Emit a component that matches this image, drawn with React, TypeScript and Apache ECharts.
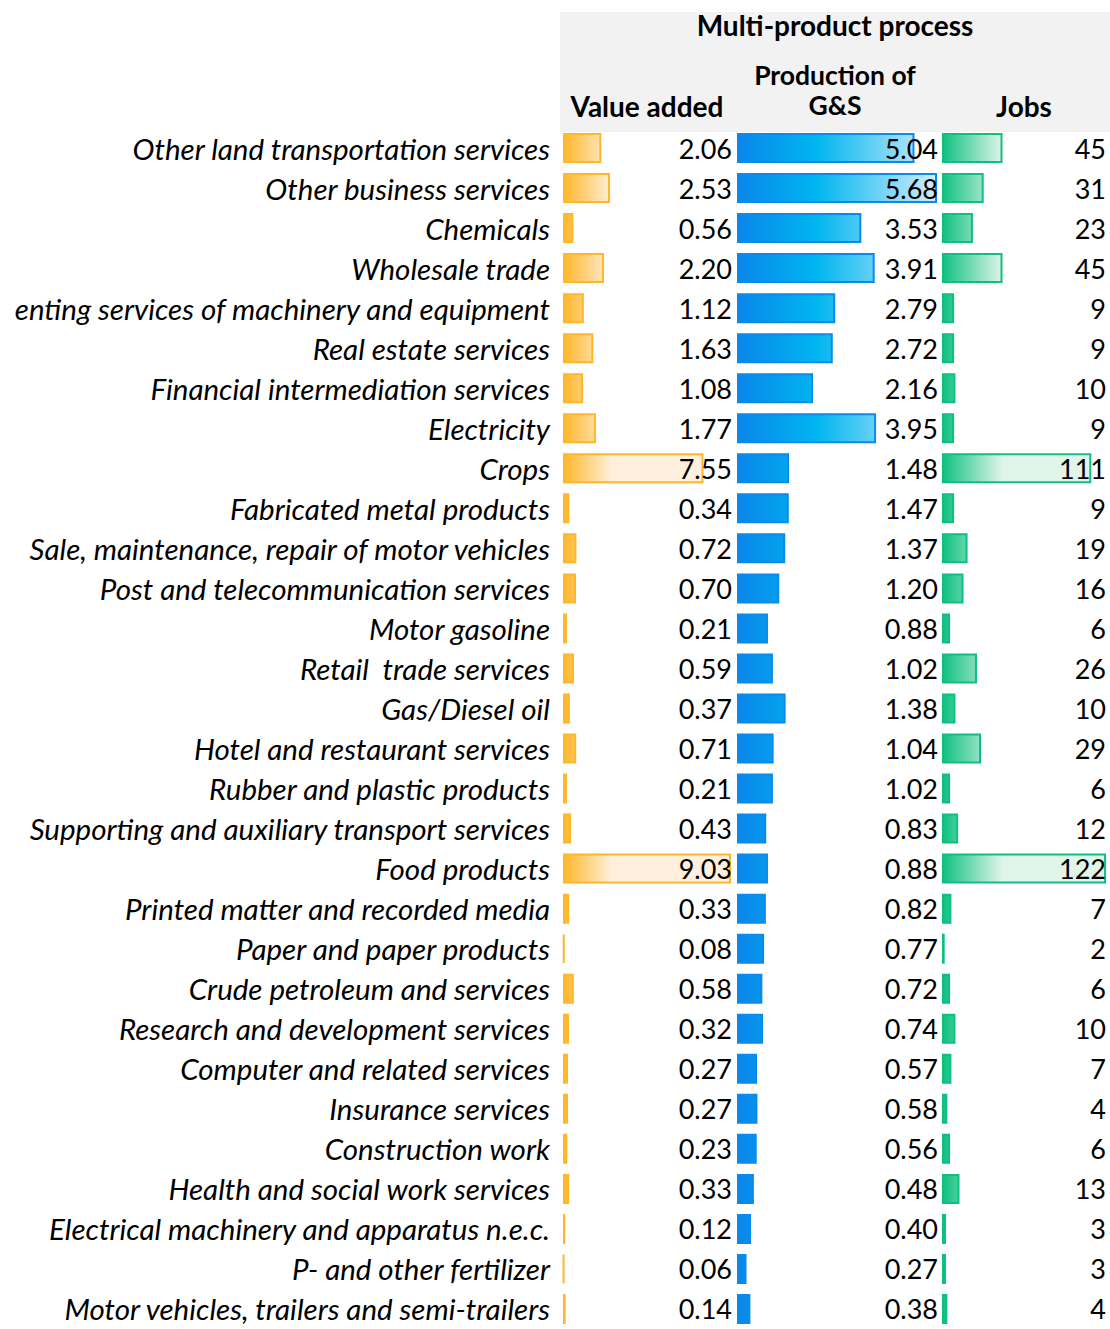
import React, { useEffect, useRef } from "react";
import * as echarts from "echarts";

const categories = [
  "Other land transportation services",
  "Other business services",
  "Chemicals",
  "Wholesale trade",
  "enting services of machinery and equipment",
  "Real estate services",
  "Financial intermediation services",
  "Electricity",
  "Crops",
  "Fabricated metal products",
  "Sale, maintenance, repair of motor vehicles",
  "Post and telecommunication services",
  "Motor gasoline",
  "Retail  trade services",
  "Gas/Diesel oil",
  "Hotel and restaurant services",
  "Rubber and plastic products",
  "Supporting and auxiliary transport services",
  "Food products",
  "Printed matter and recorded media",
  "Paper and paper products",
  "Crude petroleum and services",
  "Research and development services",
  "Computer and related services",
  "Insurance services",
  "Construction work",
  "Health and social work services",
  "Electrical machinery and apparatus n.e.c.",
  "P- and other fertilizer",
  "Motor vehicles, trailers and semi-trailers",
];

const valueAdded = [
  2.06, 2.53, 0.56, 2.2, 1.12, 1.63, 1.08, 1.77, 7.55, 0.34, 0.72, 0.7, 0.21, 0.59, 0.37,
  0.71, 0.21, 0.43, 9.03, 0.33, 0.08, 0.58, 0.32, 0.27, 0.27, 0.23, 0.33, 0.12, 0.06, 0.14,
];

const production = [
  5.04, 5.68, 3.53, 3.91, 2.79, 2.72, 2.16, 3.95, 1.48, 1.47, 1.37, 1.2, 0.88, 1.02, 1.38,
  1.04, 1.02, 0.83, 0.88, 0.82, 0.77, 0.72, 0.74, 0.57, 0.58, 0.56, 0.48, 0.4, 0.27, 0.38,
];

const jobs = [
  45, 31, 23, 45, 9, 9, 10, 9, 111, 9, 19, 16, 6, 26, 10, 29, 6, 12, 122, 7, 2, 6, 10, 7, 4,
  6, 13, 3, 3, 4,
];

const columnTitles = ["Value added", "Production of", "G&S", "Jobs"];
const headerTitle = "Multi-product process";

const FONT = "Lato, 'Open Sans', sans-serif";

export default function App() {
  const ref = useRef<HTMLDivElement>(null);

  useEffect(() => {
    if (!ref.current) return;
    const chart = echarts.init(ref.current, undefined, { renderer: "svg" });

    const top = 128;
    const height = 1205;
    const cols = [
      { left: 563, width: 170, max: 9.137, data: valueAdded, fmt: (v: number) => v.toFixed(2),
        main: "#FFB628", stops: [[0, "#FFB628"], [1, "#FEF0DD"]], gx: [563, 612] },
      { left: 737, width: 202, max: 5.737, data: production, fmt: (v: number) => v.toFixed(2),
        main: "#0A8AEC", stops: [[0, "#0A86EA"], [0.4, "#00B6F0"], [1, "#D4EDFB"]], gx: [737, 937] },
      { left: 942, width: 165, max: 122.7, data: jobs, fmt: (v: number) => String(v),
        main: "#0EC07F", stops: [[0, "#0EC07F"], [1, "#E0F4EA"]], gx: [942, 1002] },
    ];

    const grid = cols.map((c) => ({ left: c.left, width: c.width, top, height }));
    const xAxis = cols.map((c, i) => ({
      type: "value", gridIndex: i, min: 0, max: c.max, show: false,
    }));
    const yAxis: any[] = [];
    cols.forEach((c, i) => {
      yAxis.push({
        type: "category",
        gridIndex: i,
        data: categories,
        inverse: true,
        axisLine: { show: false },
        axisTick: { show: false },
        axisLabel: i === 0
          ? { show: true, fontFamily: FONT, fontStyle: "italic", fontSize: 29.5, color: "#000", margin: 13, padding: [0, 0, 0, 0], lineHeight: 26 }
          : { show: false },
      });
    });
    cols.forEach((c, i) => {
      yAxis.push({
        type: "category",
        gridIndex: i,
        position: "right",
        data: c.data.map(c.fmt),
        inverse: true,
        z: 5,
        axisLine: { show: false },
        axisTick: { show: false },
        axisLabel: { inside: true, margin: 1, fontFamily: FONT, fontSize: 27, color: "#000" },
      });
    });

    const series = cols.map((c, i) => ({
      type: "bar",
      xAxisIndex: i,
      yAxisIndex: i,
      data: c.data,
      barWidth: 30,
      itemStyle: {
        color: new echarts.graphic.LinearGradient(
          c.gx[0], 0, c.gx[1], 0,
          c.stops.map(([o, col]) => ({ offset: o as number, color: col as string })),
          true
        ),
        borderColor: c.main,
        borderWidth: 2,
      },
    }));

    const hdr = (text: string, x: number, y: number, size = 28) => ({
      type: "text", x, y,
      style: { text, font: `bold ${size}px ${FONT}`, fill: "#000", align: "center", verticalAlign: "middle" },
    });

    chart.setOption({
      animation: false,
      backgroundColor: "#fff",
      grid,
      xAxis,
      yAxis,
      series,
      graphic: [
        { type: "rect", shape: { x: 560, y: 12, width: 550, height: 120 }, style: { fill: "#F2F2F2" }, z: -10 },
        hdr(headerTitle, 835, 25),
        hdr(columnTitles[0], 647, 106),
        hdr(columnTitles[1], 835, 75, 26.5),
        hdr(columnTitles[2], 835, 105, 26.5),
        hdr(columnTitles[3], 1024, 106),
      ],
    });

    return () => chart.dispose();
  }, []);

  return (
    <div
      ref={ref}
      style={{ position: "absolute", left: 0, top: 0, width: 1110, height: 1329 }}
    />
  );
}
